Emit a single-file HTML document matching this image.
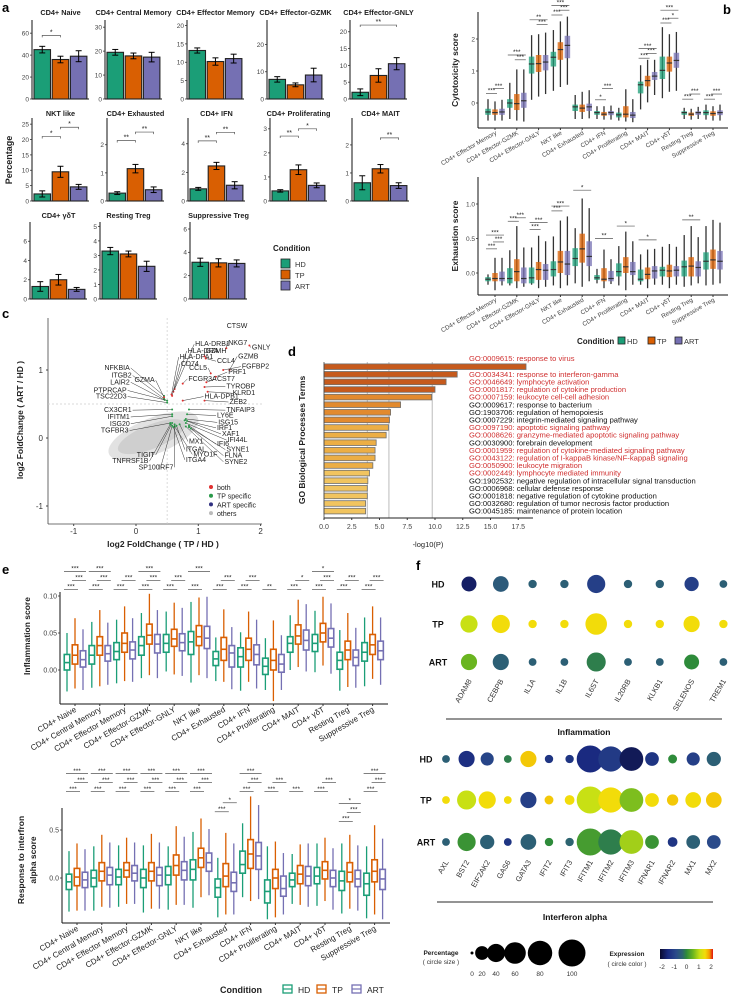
<!DOCTYPE html>
<html><head><meta charset="utf-8">
<style>
html,body{margin:0;padding:0;background:#fff;}
svg{display:block;font-family:"Liberation Sans",Arial,sans-serif;}
</style></head>
<body>
<svg id="fig" width="738" height="995" viewBox="0 0 738 995" xmlns="http://www.w3.org/2000/svg">
<defs>
<linearGradient id="exprGrad" x1="0" x2="1" y1="0" y2="0">
<stop offset="0" stop-color="#0a0a2e"/><stop offset="0.15" stop-color="#1a2a80"/><stop offset="0.3" stop-color="#2a4a8a"/>
<stop offset="0.42" stop-color="#2d6470"/><stop offset="0.5" stop-color="#2e8b3a"/><stop offset="0.62" stop-color="#6ab520"/>
<stop offset="0.75" stop-color="#c8e014"/><stop offset="0.85" stop-color="#f2dc0a"/><stop offset="0.93" stop-color="#f5a000"/><stop offset="1" stop-color="#e01010"/>
</linearGradient>
</defs>
</svg>
<script>
// ---------------- DATA ----------------
// Panel a
const aTitles=["CD4+ Naive","CD4+ Central Memory","CD4+ Effector Memory","CD4+ Effector-GZMK","CD4+ Effector-GNLY","NKT like","CD4+ Exhausted","CD4+ IFN","CD4+ Proliferating","CD4+ MAIT","CD4+ γδT","Resting Treg","Suppressive Treg"];
const aMeans=[[45,36,39],[19.5,18,17.5],[13.2,10.2,11],[7.2,5.2,8.8],[2,7,10.5],[2.3,9.5,4.6],[0.28,1.15,0.4],[0.85,2.45,1.1],[0.42,1.3,0.65],[0.65,1.15,0.55],[1.3,2.0,1.0],[3.3,3.1,2.25],[3.15,3.1,3.05]];
const aSem=[[3,3,5],[1.2,1.2,2],[0.7,1,1.2],[1,0.7,2.5],[1,2,1.8],[1,1.8,0.8],[0.05,0.15,0.1],[0.1,0.25,0.25],[0.05,0.2,0.1],[0.25,0.15,0.1],[0.5,0.55,0.2],[0.25,0.2,0.35],[0.35,0.35,0.3]];
const aYmax=[72,33,21.5,29,23.5,27,2.95,5.8,3.45,2.96,8,5.3,6.6];
const aTicks=[[0,20,40,60],[0,10,20,30],[0,5,10,15,20],[0,10,20],[0,5,10,15,20],[0,5,10,15,20,25],[0,1,2],[0,2,4],[0,1,2,3],[0,1,2],[0,2,4,6],[0,1,2,3,4,5],[0,2,4,6]];
const aSig=[[0,0,1,"*",58],[4,0,2,"**",22],[5,0,1,"*",21],[5,1,2,"*",24],[6,0,1,"**",2.15],[6,1,2,"**",2.45],[7,0,1,"**",4.2],[7,1,2,"**",4.8],[8,0,1,"**",2.7],[8,1,2,"*",3.0],[9,1,2,"**",2.25]];
const conditions=["HD","TP","ART"];
// Panel b
const bGroups=["CD4+ Effector Memory","CD4+ Effector-GZMK","CD4+ Effector-GNLY","NKT like","CD4+ Exhausted","CD4+ IFN","CD4+ Proliferating","CD4+ MAIT","CD4+ γδT","Resting Treg","Suppressive Treg"];
const cytoBox=[
[[-0.55,-0.37,-0.28,-0.18,0.12],[-0.55,-0.37,-0.3,-0.2,0.05],[-0.55,-0.37,-0.28,-0.18,0.1]],
[[-0.5,-0.15,0,0.12,0.63],[-0.55,-0.22,-0.02,0.28,1.05],[-0.58,-0.15,0.07,0.32,1.05]],
[[0.1,0.92,1.22,1.45,2.12],[0.2,0.97,1.23,1.5,2.15],[0.28,1.02,1.28,1.5,2.2]],
[[0.38,1.14,1.43,1.6,2.28],[0.5,1.35,1.67,1.9,2.55],[0.57,1.4,1.8,2.1,2.7]],
[[-0.5,-0.25,-0.12,-0.05,0.25],[-0.5,-0.28,-0.16,-0.05,0.35],[-0.48,-0.25,-0.12,-0.02,0.4]],
[[-0.5,-0.37,-0.3,-0.25,-0.1],[-0.52,-0.4,-0.35,-0.28,-0.1],[-0.52,-0.38,-0.3,-0.25,-0.08]],
[[-0.55,-0.45,-0.37,-0.3,-0.15],[-0.58,-0.45,-0.35,-0.1,0.43],[-0.6,-0.47,-0.38,-0.28,0.12]],
[[-0.2,0.3,0.57,0.67,1.18],[0.02,0.52,0.7,0.85,1.35],[0.25,0.72,0.84,0.97,1.35]],
[[0.15,0.75,1.02,1.45,2.37],[0.35,0.98,1.25,1.45,2.15],[0.38,1.1,1.33,1.57,2.22]],
[[-0.5,-0.37,-0.3,-0.26,-0.15],[-0.52,-0.4,-0.35,-0.3,-0.18],[-0.5,-0.37,-0.3,-0.26,-0.12]],
[[-0.52,-0.38,-0.3,-0.23,-0.05],[-0.55,-0.4,-0.33,-0.26,-0.1],[-0.55,-0.38,-0.3,-0.23,-0.05]]];
const exhBox=[
[[-0.17,-0.12,-0.09,-0.06,-0.02],[-0.25,-0.12,-0.08,0.0,0.22],[-0.18,-0.12,-0.08,0.02,0.22]],
[[-0.18,-0.15,-0.08,0.07,0.33],[-0.22,-0.12,0.02,0.2,0.68],[-0.2,-0.15,-0.08,0.08,0.37]],
[[-0.17,-0.15,-0.07,0.08,0.37],[-0.22,-0.1,0.05,0.16,0.54],[-0.2,-0.1,0.04,0.13,0.46]],
[[-0.18,-0.05,0.05,0.17,0.53],[-0.22,0.0,0.16,0.32,0.76],[-0.18,-0.03,0.13,0.32,0.82]],
[[-0.15,0.1,0.21,0.36,0.65],[-0.2,0.15,0.35,0.57,1.08],[-0.12,0.1,0.24,0.46,0.94]],
[[-0.15,-0.1,-0.07,-0.03,0.06],[-0.22,-0.12,-0.09,0.07,0.34],[-0.16,-0.12,-0.08,0.03,0.2]],
[[-0.18,-0.05,0.02,0.14,0.39],[-0.25,0.0,0.09,0.23,0.6],[-0.17,-0.03,0.02,0.16,0.46]],
[[-0.17,-0.12,-0.09,0.05,0.27],[-0.22,-0.09,-0.02,0.08,0.34],[-0.17,-0.08,0.03,0.1,0.35]],
[[-0.17,-0.05,0.04,0.09,0.38],[-0.22,-0.06,0.03,0.12,0.42],[-0.17,-0.05,0.04,0.1,0.38]],
[[-0.2,-0.05,0.09,0.18,0.55],[-0.18,-0.05,0.1,0.23,0.68],[-0.15,-0.05,0.08,0.17,0.52]],
[[-0.18,0.05,0.17,0.3,0.68],[-0.17,0.06,0.19,0.34,0.77],[-0.15,0.05,0.17,0.32,0.73]]];
const cytoSig=[[0,0,1,"***",0.3],[0,1,2,"***",0.45],[1,0,2,"***",1.5],[1,1,2,"***",1.35],[2,0,2,"**",2.6],[2,1,2,"***",2.45],[3,0,1,"***",2.75],[3,1,2,"***",2.9],[3,0,2,"***",3.05],[5,0,1,"*",0.1],[5,1,2,"***",0.45],[7,0,1,"***",1.4],[7,1,2,"***",1.55],[7,0,2,"***",1.7],[8,0,1,"***",2.5],[8,1,2,"*",2.65],[8,0,2,"***",2.9],[9,0,1,"***",0.12],[9,1,2,"***",0.28],[10,0,1,"***",0.12],[10,1,2,"***",0.28]];
const exhSig=[[0,0,1,"***",0.35],[0,1,2,"***",0.45],[0,0,2,"***",0.55],[1,0,1,"***",0.75],[1,1,2,"***",0.8],[2,0,1,"***",0.63],[2,0,2,"***",0.73],[3,0,1,"***",0.9],[3,0,2,"***",0.97],[4,0,2,"*",1.2],[5,0,2,"**",0.5],[6,0,2,"*",0.68],[7,0,2,"*",0.48],[9,0,2,"**",0.77]];
const cytoTicks=[0,1,2], exhTicks=[0,0.5,1.0];
// Panel c
const cX=[-1,0,1,2], cY=[-1,0,1];
const cGenes=[
["HLA-DRB1",0.62,0.72,"both",0.95,1.35],["HLA-DRA",0.6,0.68,"both",0.83,1.25],["HLA-DPA1",0.57,0.64,"both",0.7,1.16],["CD74",0.58,0.62,"both",0.72,1.06],
["NKG7",1.45,1.32,"both",1.48,1.37],["GNLY",1.82,1.36,"both",1.86,1.3],["GZMH",1.1,1.2,"both",1.12,1.25],["GZMB",1.5,1.0,"both",1.64,1.17],
["CCL4",1.12,1.17,"both",1.3,1.1],["CCL5",1.2,0.95,"both",1.14,1.0],["FGFBP2",1.4,1.0,"both",1.7,1.02],["PRF1",1.28,0.9,"both",1.48,0.94],
["CST7",1.13,0.82,"both",1.3,0.84],["FCGR3A",0.75,0.8,"both",0.84,0.84],["NFKBIA",0.45,0.62,"TP",-0.1,1.0],["ITGB2",0.45,0.58,"TP",-0.07,0.89],
["GZMA",0.45,0.6,"both",0.3,0.82],["LAIR2",0.46,0.56,"TP",-0.1,0.79],["PTPRCAP",0.5,0.55,"TP",-0.15,0.67],["TSC22D3",0.5,0.52,"TP",-0.15,0.58],
["TYROBP",1.1,0.75,"both",1.45,0.73],["KLRD1",1.15,0.68,"both",1.55,0.63],["HLA-DPB1",0.75,0.55,"both",1.1,0.58],["ZEB2",1.1,0.55,"both",1.5,0.5],
["TNFAIP3",0.85,0.42,"TP",1.45,0.38],["CX3CR1",0.58,0.42,"TP",-0.07,0.38],["IFITM1",0.58,0.35,"TP",-0.1,0.28],["LY6E",0.82,0.35,"TP",1.3,0.3],
["ISG20",0.58,0.32,"TP",-0.1,0.18],["ISG15",0.8,0.28,"TP",1.32,0.2],["TGFBR3",0.55,0.22,"TP",-0.12,0.08],["IRF1",0.78,0.26,"TP",1.3,0.12],
["XAF1",0.82,0.25,"TP",1.38,0.03],["IFI44L",0.8,0.22,"TP",1.47,-0.06],["MX1",0.7,0.2,"TP",0.85,-0.08],["IFI6",0.85,0.18,"TP",1.3,-0.12],
["SYNE1",0.85,0.16,"TP",1.45,-0.2],["ITGAL",0.65,0.18,"TP",0.8,-0.2],["MYO1F",0.62,0.17,"TP",0.92,-0.27],["FLNA",0.88,0.14,"TP",1.42,-0.29],
["TIGIT",0.58,0.22,"TP",0.3,-0.28],["ITGA4",0.6,0.16,"TP",0.8,-0.35],["SYNE2",0.8,0.17,"TP",1.42,-0.38],["TNFRSF1B",0.55,0.2,"TP",0.2,-0.37],
["IRF7",0.62,0.2,"TP",0.6,-0.46],["SP100",0.58,0.18,"TP",0.38,-0.46]];
// Panel d
const dTerms=["GO:0009615: response to virus","GO:0034341: response to interferon-gamma","GO:0046649: lymphocyte activation","GO:0001817: regulation of cytokine production","GO:0007159: leukocyte cell-cell adhesion","GO:0009617: response to bacterium","GO:1903706: regulation of hemopoiesis","GO:0007229: integrin-mediated signaling pathway","GO:0097190: apoptotic signaling pathway","GO:0008626: granzyme-mediated apoptotic signaling pathway","GO:0030900: forebrain development","GO:0001959: regulation of cytokine-mediated signaling pathway","GO:0043122: regulation of I-kappaB kinase/NF-kappaB signaling","GO:0050900: leukocyte migration","GO:0002449: lymphocyte mediated immunity","GO:1902532: negative regulation of intracellular signal transduction","GO:0006968: cellular defense response","GO:0001818: negative regulation of cytokine production","GO:0032680: regulation of tumor necrosis factor production","GO:0045185: maintenance of protein location"];
const dValues=[18.2,12.0,11.0,10.0,9.7,6.9,6.0,5.9,5.8,5.6,4.7,4.6,4.6,4.4,4.1,3.95,3.9,3.9,3.75,3.75];
const dImmune=[1,1,1,1,1,0,0,0,1,1,0,1,1,1,1,0,0,0,0,0];
const dTicks=[0,2.5,5,7.5,10,12.5,15,17.5];
const dRefLines=[3.9,5.85,9.75];
// Panel e
const eGroups=["CD4+ Naive","CD4+ Central Memory","CD4+ Effector Memory","CD4+ Effector-GZMK","CD4+ Effector-GNLY","NKT like","CD4+ Exhausted","CD4+ IFN","CD4+ Proliferating","CD4+ MAIT","CD4+ γδT","Resting Treg","Suppressive Treg"];
const inflBox=[
[[-0.029,0.0,0.01,0.021,0.05],[-0.025,0.008,0.02,0.034,0.07],[-0.027,0.004,0.014,0.026,0.055]],
[[-0.024,0.008,0.02,0.033,0.065],[-0.022,0.02,0.033,0.045,0.081],[-0.02,0.012,0.022,0.033,0.064]],
[[-0.018,0.014,0.025,0.037,0.068],[-0.015,0.024,0.036,0.05,0.086],[-0.016,0.015,0.027,0.038,0.07]],
[[-0.011,0.02,0.033,0.045,0.077],[-0.007,0.035,0.047,0.062,0.103],[-0.011,0.023,0.035,0.048,0.081]],
[[-0.002,0.024,0.036,0.048,0.079],[-0.006,0.032,0.042,0.055,0.091],[-0.008,0.026,0.037,0.049,0.084]],
[[-0.017,0.021,0.038,0.052,0.092],[-0.007,0.033,0.045,0.06,0.098],[-0.011,0.029,0.043,0.059,0.099]],
[[-0.015,0.006,0.015,0.025,0.044],[-0.016,0.013,0.028,0.044,0.082],[-0.026,0.004,0.023,0.033,0.058]],
[[-0.028,0.004,0.018,0.03,0.051],[-0.016,0.013,0.028,0.043,0.079],[-0.025,0.007,0.021,0.034,0.068]],
[[-0.027,-0.006,0.005,0.016,0.043],[-0.042,0.0,0.013,0.028,0.067],[-0.027,-0.003,0.008,0.021,0.047]],
[[0.0,0.024,0.036,0.045,0.074],[0.004,0.035,0.046,0.061,0.095],[-0.002,0.027,0.04,0.054,0.089]],
[[-0.003,0.025,0.036,0.048,0.08],[0.006,0.038,0.05,0.063,0.099],[-0.005,0.031,0.043,0.056,0.09]],
[[-0.028,0.001,0.013,0.024,0.054],[-0.023,0.014,0.027,0.039,0.077],[-0.024,0.006,0.017,0.027,0.057]],
[[-0.022,0.012,0.024,0.037,0.071],[-0.012,0.021,0.034,0.048,0.086],[-0.02,0.014,0.026,0.039,0.071]]];
const ifnBox=[
[[-0.35,-0.12,-0.04,0.04,0.28],[-0.34,-0.08,0.01,0.1,0.36],[-0.34,-0.1,-0.02,0.06,0.3]],
[[-0.34,-0.09,0,0.08,0.33],[-0.3,-0.03,0.07,0.16,0.45],[-0.31,-0.07,0.03,0.11,0.37]],
[[-0.3,-0.07,0.01,0.09,0.34],[-0.27,0.01,0.08,0.16,0.42],[-0.27,-0.03,0.05,0.13,0.37]],
[[-0.36,-0.1,0,0.09,0.34],[-0.32,-0.03,0.07,0.16,0.46],[-0.32,-0.08,0.03,0.11,0.37]],
[[-0.33,-0.07,0.03,0.12,0.33],[-0.28,0.03,0.13,0.24,0.54],[-0.28,-0.02,0.08,0.17,0.43]],
[[-0.31,-0.02,0.09,0.19,0.48],[-0.2,0.11,0.21,0.31,0.62],[-0.18,0.07,0.16,0.26,0.51]],
[[-0.41,-0.2,-0.1,-0.01,0.21],[-0.38,-0.09,0.02,0.15,0.47],[-0.38,-0.14,-0.05,0.06,0.36]],
[[-0.2,0.05,0.14,0.28,0.57],[-0.24,0.1,0.25,0.4,0.85],[-0.22,0.09,0.23,0.37,0.76]],
[[-0.43,-0.26,-0.14,-0.02,0.33],[-0.41,-0.11,0,0.09,0.38],[-0.38,-0.19,-0.11,0.02,0.26]],
[[-0.27,-0.09,-0.02,0.05,0.25],[-0.28,-0.06,0.04,0.13,0.35],[-0.3,-0.08,0.02,0.12,0.36]],
[[-0.29,-0.06,0.02,0.11,0.36],[-0.24,-0.01,0.08,0.17,0.42],[-0.33,-0.09,0.0,0.08,0.31]],
[[-0.37,-0.13,-0.03,0.07,0.36],[-0.32,-0.04,0.06,0.16,0.45],[-0.34,-0.09,-0.01,0.08,0.34]],
[[-0.42,-0.18,-0.06,0.05,0.33],[-0.38,-0.04,0.07,0.19,0.55],[-0.43,-0.12,-0.01,0.09,0.41]]];
const inflSig=[["***","***","***"],["***","***","***"],["***","***",""],["***","***","***"],["***","***",""],["***","","***"],["***","***",""],["***","***",""],["**","",""],["***","*",""],["***","***","*"],["***","***",""],["***","***",""]];
const ifnSig=[["***","***","***"],["***","***","***"],["***","***","***"],["***","***","***"],["***","***","***"],["***","***","***"],["***","*",""],["***","***","***"],["***","***",""],["***","",""],["***","***",""],["***","***","*"],["***","***","***"]];
const inflSigBase=[0.109,0.109,0.109,0.109,0.109,0.109,0.109,0.109,0.109,0.109,0.109,0.109,0.109];
const ifnSigBase=[0.9,0.9,0.9,0.9,0.9,0.9,0.69,0.9,0.9,0.9,0.9,0.59,0.9];
const inflTicks=[0,0.05,0.10], ifnTicks=[0,0.5];
// Panel f
const fRows=["HD","TP","ART"];
const fInflGenes=["ADAM8","CEBPB","IL1A","IL1B","IL6ST","IL20RB","KLKB1","SELENOS","TREM1"];
const fInflPct=[[25,28,5,5,40,5,5,22,4],[35,40,5,5,60,5,5,30,5],[30,30,4,4,45,4,4,25,4]];
const fInflExpr=[[-1.6,-0.5,-0.4,-0.4,-1.0,-0.4,-0.4,-1.0,-0.4],[1.0,1.4,1.4,1.4,1.4,1.4,1.4,1.4,1.4],[0.5,-0.4,-0.4,-0.4,-0.1,-0.4,-0.4,0.0,-0.4]];
const fIfnGenes=["AXL","BST2","EIF2AK2","GAS6","GATA3","IFIT2","IFIT3","IFITM1","IFITM2","IFITM3","IFNAR1","IFNAR2","MX1","MX2"];
const fIfnPct=[[4,30,18,4,30,5,5,100,85,75,20,6,18,22],[4,45,35,4,30,6,8,100,85,75,20,12,28,28],[4,40,22,4,28,5,5,100,85,75,20,8,20,20]];
const fIfnExpr=[[-0.4,-1.3,-0.9,-0.1,1.5,-1.2,-1.2,-1.4,-1.1,-1.7,-1.2,0.0,-1.0,-0.4],[1.4,1.0,1.4,1.4,-1.0,1.5,1.4,1.0,1.4,0.6,1.4,1.5,1.4,1.5],[-0.4,0.1,-0.4,-1.2,-0.4,0.0,-0.3,0.2,-0.1,0.8,0.1,-1.2,-0.4,-0.8]];
const fLegendPct=[0,20,40,60,80,100];
const fLegendExpr=[-2,-1,0,1,2];

// ---------------- HELPERS ----------------
const NS="http://www.w3.org/2000/svg";
const svg=document.getElementById('fig');
const colCond=["#1b9e77","#d95f02","#7570b3"];
function mk(tag,attrs,parent){const e=document.createElementNS(NS,tag);for(const k in attrs)e.setAttribute(k,attrs[k]);(parent||svg).appendChild(e);return e;}
function tx(str,attrs,parent){const e=mk('text',attrs,parent);e.textContent=str;return e;}
function grp(name,parent){const g=mk('g',{},parent);return g;}
function label(str,x,y,size,opts,parent){
  const a={x:x,y:y,'font-size':size,fill:(opts&&opts.fill)||'#222'};
  if(opts&&opts.anchor)a['text-anchor']=opts.anchor;
  if(opts&&opts.bold)a['font-weight']='bold';
  if(opts&&opts.rot!==undefined)a.transform='rotate('+opts.rot+' '+x+' '+y+')';
  return tx(str,a,parent);
}
function fmt(v,d){return v.toFixed(d);}

// panel letters
[["a",2,12],["b",723,14],["c",2,318],["d",288,356],["e",2,574],["f",416,570]].forEach(p=>{
  const t=label(p[0],p[1],p[2],13,{bold:true,fill:'#000'});
  
  
});

// ---------------- PANEL A ----------------
(function(){
  const G=grp('panel-a-bar-charts');
  const axX=[32,105,187,267,350,32,107,188,270,352,30,100,190];
  const rows=[[20,99],[118,201],[222,299]];
  const rowOf=[0,0,0,0,0,1,1,1,1,1,2,2,2];
  const titleY=[15,116,218];
  aTitles.forEach((t,i)=>{
    const g=grp('bar-panel-'+t.toLowerCase().replace(/[^a-z0-9]+/g,'-'),G);
    const top=rows[rowOf[i]][0], base=rows[rowOf[i]][1], x0=axX[i], w=57;
    const ys=v=>base-(v/aYmax[i])*(base-top);
    const tt=label(t,x0+w/2,titleY[rowOf[i]],7.3,{anchor:'middle',bold:true},g);
    
    
    mk('line',{x1:x0,y1:top,x2:x0,y2:base,stroke:'#111','stroke-width':1},g);
    mk('line',{x1:x0,y1:base,x2:x0+w,y2:base,stroke:'#111','stroke-width':1},g);
    aTicks[i].forEach(tv=>{
      const y=ys(tv);
      mk('line',{x1:x0-2,y1:y,x2:x0,y2:y,stroke:'#333','stroke-width':0.8},g);
      label(String(tv),x0-3,y+2.4,6.5,{anchor:'end',fill:'#444'},g);
    });
    aMeans[i].forEach((m,c)=>{
      const bx=x0+2+c*18.2, bw=16.5;
      const r=mk('rect',{x:bx,y:ys(m),width:bw,height:base-ys(m),fill:colCond[c],stroke:'#222','stroke-width':1.1},g);
      
      
      const cx=bx+bw/2, s=aSem[i][c];
      mk('line',{x1:cx,y1:ys(m-s),x2:cx,y2:ys(m+s),stroke:'#000','stroke-width':1},g);
      mk('line',{x1:cx-3,y1:ys(m+s),x2:cx+3,y2:ys(m+s),stroke:'#000','stroke-width':1},g);
      mk('line',{x1:cx-3,y1:ys(m-s),x2:cx+3,y2:ys(m-s),stroke:'#000','stroke-width':1},g);
    });
    aSig.filter(s=>s[0]===i).forEach(s=>{
      const xa=x0+2+s[1]*18.2+8.2, xb=x0+2+s[2]*18.2+8.2, y=ys(s[4]);
      mk('path',{d:'M'+xa+','+(y+2)+'V'+y+'H'+xb+'V'+(y+2),fill:'none',stroke:'#555','stroke-width':0.7},g);
      label(s[3],(xa+xb)/2,y-1,7,{anchor:'middle'},g);
    });
  });
  const yl=label('Percentage',12,160,9,{anchor:'middle',bold:true,rot:-90},G);
  
  
  const lg=grp('legend-condition-a',G);
  label('Condition',273,251,8,{bold:true},lg);
  conditions.forEach((c,k)=>{
    const e=mk('rect',{x:281,y:259+k*11,width:9,height:9,fill:colCond[k],stroke:'#222','stroke-width':0.8},lg);
    
    
    label(c,295,267+k*11,7.5,{fill:'#333'},lg);
  });
})();

// ---------------- BOXPLOT HELPERS ----------------
function filledBoxes(G,groups,data,ys,x0,step,bw,off){
  data.forEach((gr,i)=>{
    const cx=x0+i*step;
    gr.forEach((b,c)=>{
      const x=cx+(c-1)*off;
      const g=grp('box-'+conditions[c].toLowerCase(),G);
      mk('line',{x1:x,y1:ys(b[0]),x2:x,y2:ys(b[4]),stroke:'#333','stroke-width':1.3},g);
      mk('rect',{x:x-bw/2,y:ys(b[3]),width:bw,height:ys(b[1])-ys(b[3]),fill:colCond[c],'fill-opacity':0.75,stroke:'none'},g);
      mk('line',{x1:x-bw/2,y1:ys(b[2]),x2:x+bw/2,y2:ys(b[2]),stroke:'#333','stroke-width':1.2},g);
    });
  });
}
function hollowBoxes(G,data,ys,x0,step,bw,off){
  data.forEach((gr,i)=>{
    const cx=x0+i*step;
    gr.forEach((b,c)=>{
      const x=cx+(c-1)*off;
      const g=grp('box-'+conditions[c].toLowerCase(),G);
      mk('line',{x1:x,y1:ys(b[0]),x2:x,y2:ys(b[1]),stroke:colCond[c],'stroke-width':1.3},g);
      mk('line',{x1:x,y1:ys(b[3]),x2:x,y2:ys(b[4]),stroke:colCond[c],'stroke-width':1.3},g);
      mk('rect',{x:x-bw/2,y:ys(b[3]),width:bw,height:ys(b[1])-ys(b[3]),fill:'#fff',stroke:colCond[c],'stroke-width':1.6},g);
      mk('line',{x1:x-bw/2,y1:ys(b[2]),x2:x+bw/2,y2:ys(b[2]),stroke:colCond[c],'stroke-width':1.6},g);
    });
  });
}
function sigBracket(G,xa,xb,y,text){
  mk('line',{x1:xa,y1:y,x2:xb,y2:y,stroke:'#555','stroke-width':0.7},G);
  label(text,(xa+xb)/2,y-0.8,6.5,{anchor:'middle'},G);
}
function axes(G,x0,top,base,right,ticks,ys,dec,fs){
  mk('line',{x1:x0,y1:top,x2:x0,y2:base,stroke:'#111','stroke-width':1},G);
  mk('line',{x1:x0,y1:base,x2:right,y2:base,stroke:'#111','stroke-width':1},G);
  ticks.forEach(t=>{const y=ys(t);mk('line',{x1:x0-2,y1:y,x2:x0,y2:y,stroke:'#333','stroke-width':0.8},G);label(fmt(t,dec),x0-3,y+2.4,fs,{anchor:'end',fill:'#444'},G);});
}

// ---------------- PANEL B ----------------
(function(){
  const G=grp('panel-b-boxplots');
  const x0=495, step=21.8;
  // cytotoxicity
  const g1=grp('cytotoxicity-plot',G);
  const ys1=v=>103-v*32;
  axes(g1,478,12,128,728,cytoTicks,ys1,0,6.5);
  filledBoxes(g1,bGroups,cytoBox,ys1,x0,step,5.5,7);
  cytoSig.forEach(s=>{const cx=x0+s[0]*step;sigBracket(g1,cx+(s[1]-1)*7-2,cx+(s[2]-1)*7+2,ys1(s[4]),s[3]);});
  bGroups.forEach((n,i)=>{const cx=x0+i*step;mk('line',{x1:cx,y1:128,x2:cx,y2:130,stroke:'#333'},g1);label(n,cx+2,134,6.2,{anchor:'end',fill:'#444',rot:-30},g1);});
  label('Cytotoxicity score',458,70,8.5,{anchor:'middle',bold:true,rot:-90},g1);
  // exhaustion
  const g2=grp('exhaustion-plot',G);
  const ys2=v=>273-v*69;
  axes(g2,478,177,295,728,exhTicks,ys2,1,6.5);
  filledBoxes(g2,bGroups,exhBox,ys2,x0,step,5.5,7);
  exhSig.forEach(s=>{const cx=x0+s[0]*step;sigBracket(g2,cx+(s[1]-1)*7-2,cx+(s[2]-1)*7+2,ys2(s[4]),s[3]);});
  bGroups.forEach((n,i)=>{const cx=x0+i*step;mk('line',{x1:cx,y1:295,x2:cx,y2:297,stroke:'#333'},g2);label(n,cx+2,301,6.2,{anchor:'end',fill:'#444',rot:-30},g2);});
  label('Exhaustion score',458,236,8.5,{anchor:'middle',bold:true,rot:-90},g2);
  const lg=grp('legend-condition-b',G);
  label('Condition',577,344,8,{bold:true},lg);
  [[618,627],[648,657],[675,684]].forEach((p,k)=>{
    const e=mk('rect',{x:p[0],y:337,width:7,height:7,fill:colCond[k],stroke:'#222','stroke-width':0.8},lg);
    
    
    label(conditions[k],p[1],344,7.5,{fill:'#333'},lg);
  });
})();

// ---------------- PANEL C ----------------
(function(){
  const G=grp('panel-c-scatter');
  const xs=v=>136+v*62.3, ys=v=>438-v*68;
  mk('line',{x1:48,y1:318,x2:48,y2:524,stroke:'#444','stroke-width':0.8},G);
  mk('line',{x1:48,y1:524,x2:262,y2:524,stroke:'#444','stroke-width':0.8},G);
  cX.forEach(t=>{mk('line',{x1:xs(t),y1:524,x2:xs(t),y2:526,stroke:'#444'},G);label(String(t),xs(t),534,8,{anchor:'middle',fill:'#333'},G);});
  cY.forEach(t=>{mk('line',{x1:46,y1:ys(t),x2:48,y2:ys(t),stroke:'#444'},G);label(String(t),43,ys(t)+3,8,{anchor:'end',fill:'#333'},G);});
  mk('line',{x1:xs(0.5),y1:318,x2:xs(0.5),y2:524,stroke:'#ccc','stroke-dasharray':'2,2','stroke-width':0.7},G);
  mk('line',{x1:48,y1:ys(0.5),x2:262,y2:ys(0.5),stroke:'#ccc','stroke-dasharray':'2,2','stroke-width':0.7},G);
  const cloud=grp('others-point-cloud',G);
  mk('ellipse',{cx:xs(0.28),cy:ys(0.03),rx:48,ry:18,fill:'#e2e2e2',transform:'rotate(-22 '+xs(0.28)+' '+ys(0.03)+')'},cloud);
  mk('ellipse',{cx:xs(0.25),cy:ys(0.02),rx:36,ry:12,fill:'#cfcfcf',transform:'rotate(-22 '+xs(0.25)+' '+ys(0.02)+')'},cloud);
  const catCol={both:'#e03030',TP:'#2a9a4a',ART:'#303080'};
  cGenes.forEach(gn=>{
    const g=grp('gene-'+gn[0].toLowerCase(),G);
    const px=xs(gn[1]),py=ys(gn[2]),lx=xs(gn[4]),ly=ys(gn[5]);
    const right=gn[4]>gn[1];
    mk('line',{x1:px,y1:py,x2:lx+(right?-1:1),y2:ly-2,stroke:'#333','stroke-width':0.5},g);
    mk('circle',{cx:px,cy:py,r:1,fill:catCol[gn[3]]},g);
    label(gn[0],lx,ly,7,{anchor:right?'start':'end',fill:'#222'},g);
  });
  label('CTSW',237,328,7,{anchor:'middle',fill:'#222'},G);
  const lg=grp('legend-category',G);
  [['both','#e03030'],['TP specific','#2a9a4a'],['ART specific','#303080'],['others','#bbbbbb']].forEach((e,k)=>{
    const c=mk('circle',{cx:211,cy:487+k*8.7,r:2,fill:e[1]},lg);
    
    
    label(e[0],217,490+k*8.7,7,{fill:'#222'},lg);
  });
  label('log2 FoldChange ( TP / HD )',163,547,8.5,{anchor:'middle',bold:true},G);
  label('log2 FoldChange ( ART / HD )',23,420,8.5,{anchor:'middle',bold:true,rot:-90},G);
})();

// ---------------- PANEL D ----------------
(function(){
  const G=grp('panel-d-go-barchart');
  const xs=v=>324+v*11.1;
  const yc=i=>366.7+i*7.6;
  dRefLines.forEach(v=>mk('line',{x1:xs(v),y1:362,x2:xs(v),y2:518,stroke:'#bbb','stroke-width':1},G));
  dValues.forEach((v,i)=>{
    const col=v>=9.9?'#c65a1c':v>=5.9?'#e28a2e':v>=4.4?'#ecae45':'#f1c45f';
    const r=mk('rect',{x:324,y:yc(i)-2.8,width:xs(v)-324,height:5.6,fill:col,stroke:'#707070','stroke-width':0.8},G);
    
    
    const t=label(dTerms[i],469,i===0?361:yc(i)+2.6,7.6,{fill:dImmune[i]?'#d03030':'#111'},G);
    
    
  });
  mk('line',{x1:324,y1:362,x2:324,y2:518,stroke:'#444','stroke-width':0.8},G);
  mk('line',{x1:324,y1:518,x2:533,y2:518,stroke:'#222','stroke-width':1},G);
  dTicks.forEach(t=>{mk('line',{x1:xs(t),y1:518,x2:xs(t),y2:520,stroke:'#333'},G);label(fmt(t,1),xs(t),529,7,{anchor:'middle',fill:'#444'},G);});
  label('-log10(P)',428,547,7.5,{anchor:'middle',fill:'#222'},G);
  label('GO Biological Processes Terms',305,440,8.5,{anchor:'middle',bold:true,rot:-90},G);
})();

// ---------------- PANEL E ----------------
(function(){
  const G=grp('panel-e-boxplots');
  // inflammation
  const g1=grp('inflammation-plot',G);
  const ys1=v=>670-v*740, x1=75, st=24.8;
  axes(g1,60,592,704,388,inflTicks,ys1,2,7);
  hollowBoxes(g1,inflBox,ys1,x1,st,5.5,8);
  inflSig.forEach((s,i)=>{const cx=x1+i*st;const pr=[[0,1],[1,2],[0,2]];s.forEach((t,l)=>{if(!t)return;const y=ys1(inflSigBase[i])-l*9;sigBracket(g1,cx+(pr[l][0]-1)*8-3,cx+(pr[l][1]-1)*8+3,y,t);});});
  eGroups.forEach((n,i)=>{const cx=x1+i*st;mk('line',{x1:cx,y1:704,x2:cx,y2:706,stroke:'#333'},g1);label(n,cx+2,711,8,{anchor:'end',fill:'#222',rot:-30},g1);});
  label('Inflammation score',30,636,8.5,{anchor:'middle',bold:true,rot:-90},g1);
  // interferon alpha
  const g2=grp('interferon-alpha-plot',G);
  const ys2=v=>878-v*96, x2=77;
  axes(g2,62,808,923,390,ifnTicks,ys2,1,7);
  hollowBoxes(g2,ifnBox,ys2,x2,st,5.5,8);
  ifnSig.forEach((s,i)=>{const cx=x2+i*st;const pr=[[0,1],[1,2],[0,2]];s.forEach((t,l)=>{if(!t)return;const y=ys2(ifnSigBase[i])-l*9;sigBracket(g2,cx+(pr[l][0]-1)*8-3,cx+(pr[l][1]-1)*8+3,y,t);});});
  eGroups.forEach((n,i)=>{const cx=x2+i*st;mk('line',{x1:cx,y1:923,x2:cx,y2:925,stroke:'#333'},g2);label(n,cx+2,930,8,{anchor:'end',fill:'#222',rot:-30},g2);});
  label('Response to interfron',24,860,8.5,{anchor:'middle',bold:true,rot:-90},g2);
  label('alpha score',36,860,8.5,{anchor:'middle',bold:true,rot:-90},g2);
  const lg=grp('legend-condition-e',G);
  label('Condition',220,993,9,{bold:true},lg);
  [[283,298],[317,332],[352,367]].forEach((p,k)=>{
    const e=mk('rect',{x:p[0],y:985,width:9,height:8,fill:'#fff',stroke:colCond[k],'stroke-width':1.3},lg);
    
    
    mk('line',{x1:p[0],y1:989,x2:p[0]+9,y2:989,stroke:colCond[k],'stroke-width':1.2},lg);
    label(conditions[k],p[1],993,8.5,{fill:'#222'},lg);
  });
})();

// ---------------- PANEL F ----------------
function exprColor(v){
  const stops=[[-2,[10,10,46]],[-1.4,[26,42,128]],[-0.8,[42,74,138]],[-0.3,[45,100,112]],[0,[46,139,58]],[0.5,[106,181,32]],[1,[200,224,20]],[1.4,[242,220,10]],[1.7,[245,160,0]],[2,[224,16,16]]];
  v=Math.max(-2,Math.min(2,v));
  for(let i=0;i<stops.length-1;i++){const a=stops[i],b=stops[i+1];if(v<=b[0]){const t=(v-a[0])/(b[0]-a[0]);const c=a[1].map((x,k)=>Math.round(x+(b[1][k]-x)*t));return 'rgb('+c.join(',')+')';}}
  return 'rgb(224,16,16)';
}
const rad=p=>1.5+12*Math.sqrt(p/100);
(function(){
  const G=grp('panel-f-dotplot');
  function block(name,genes,pct,expr,x0,step,rowY,rowX,labY,lineY,lineX1,lineX2,title,titleY){
    const g=grp(name,G);
    fRows.forEach((r,ri)=>{
      label(r,rowX,rowY[ri]+3.5,9,{anchor:'middle',bold:true,fill:'#111'},g);
      genes.forEach((gn,gi)=>{
        const c=mk('circle',{cx:x0+gi*step,cy:rowY[ri],r:rad(pct[ri][gi]),fill:exprColor(expr[ri][gi])},g);
        
        
      });
    });
    genes.forEach((gn,gi)=>label(gn,x0+gi*step+3,labY,7.5,{anchor:'end',fill:'#333',rot:-60},g));
    mk('line',{x1:lineX1,y1:lineY,x2:lineX2,y2:lineY,stroke:'#555','stroke-width':1.2},g);
    label(title,(lineX1+lineX2)/2,titleY,8.5,{anchor:'middle',bold:true,fill:'#111'},g);
  }
  block('inflammation-dots',fInflGenes,fInflPct,fInflExpr,469,31.8,[584,624,662],438,681,719,446,722,'Inflammation',735);
  block('interferon-alpha-dots',fIfnGenes,fIfnPct,fIfnExpr,446,20.6,[759,800,842],426,862,902,437,713,'Interferon alpha',920);
  const lg=grp('legend-percentage',G);
  label('Percentage',441,955,6.5,{anchor:'middle',bold:true,fill:'#222'},lg);
  label('( circle size )',441,964,6.5,{anchor:'middle',fill:'#333'},lg);
  const lx=[472,482,496,515,540,572];
  fLegendPct.forEach((p,k)=>{mk('circle',{cx:lx[k],cy:953,r:rad(p),fill:'#000'},lg);label(String(p),lx[k],976,6.5,{anchor:'middle',fill:'#333'},lg);});
  const lg2=grp('legend-expression',G);
  label('Expression',627,956,6.5,{anchor:'middle',bold:true,fill:'#222'},lg2);
  label('( circle color )',627,966,6.5,{anchor:'middle',fill:'#333'},lg2);
  mk('rect',{x:660,y:949,width:53,height:10,fill:'url(#exprGrad)'},lg2);
  fLegendExpr.forEach(v=>{const x=660+2+(v+2)/4*49;label(String(v),x,969,6.5,{anchor:'middle',fill:'#333'},lg2);});
})();
</script>
</body></html>
